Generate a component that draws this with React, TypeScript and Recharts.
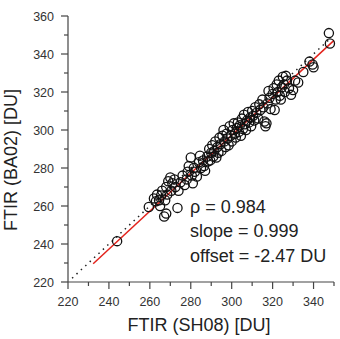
import React from "react";
import {
  ScatterChart,
  Scatter,
  XAxis,
  YAxis,
  ReferenceLine,
} from "recharts";

// total ozone columns, FTIR retrievals: SH08 (x) vs BA02 (y)
const sh08 = [
  244, 259.5, 262, 263, 263.5, 264.5, 265, 265.5, 266, 267, 268, 267.5, 268,
  268.5, 269, 270, 270.5, 271, 272, 272.5, 273.5, 274, 275, 276, 277, 278,
  278.5, 279, 280, 280.5, 281, 281.5, 282, 283, 284, 284.5, 285, 286, 286.5,
  287, 288, 288.5, 289, 289.5, 290, 290.5, 291, 291.5, 292, 292.5, 293, 293.5,
  294, 294.5, 295, 295.5, 296, 296.5, 297, 297.5, 298, 298.5, 299, 299.5, 300,
  300.5, 301, 301.5, 302, 302.5, 303, 303.5, 304, 304.5, 305, 305.5, 306,
  306.5, 307, 307.5, 308, 308.5, 309, 309.5, 310, 310.5, 311, 311.5, 312, 313,
  313.5, 314, 315, 315.5, 316, 316.5, 317, 317.5, 318, 318.5, 319, 320, 320.5,
  321, 321.5, 322, 322.5, 323, 323.5, 324, 324.5, 325, 325.5, 326, 326.5, 327,
  328, 329, 330, 331, 332.5, 335, 338, 339.5, 340, 347.5, 348,
];
const ba02 = [
  241.5, 259.5, 264, 262.5, 266, 263, 260, 265.5, 268, 254.5, 256, 263, 270,
  266, 273, 275, 268, 272, 274, 270, 259, 268, 272.5, 276, 271, 274, 278, 281,
  285.5, 276, 272, 280, 278, 275.5, 283, 286.5, 280, 284, 281, 278.5, 286,
  283.5, 290, 284, 288, 292, 286, 289, 294, 285.5, 291, 288, 296, 292.5, 289,
  297, 300, 294, 291, 298, 295.5, 292, 302, 297, 294, 300, 303.5, 298, 296,
  301, 304, 299, 302.5, 297, 306, 300.5, 308, 303, 300, 305, 309.5, 304, 306.5,
  302, 310, 307.5, 305, 312, 309, 306, 313.5, 310.5, 316, 312, 304.5, 302,
  303.5, 314, 320.5, 317, 311, 319, 322, 310.5, 316, 324, 320, 326, 318, 316,
  322.5, 328, 324, 320, 328.5, 326, 322, 318.5, 321, 326, 325, 330.5, 336,
  334.5, 333, 351, 345.5,
];

const xTicks = [220, 230, 240, 250, 260, 270, 280, 290, 300, 310, 320, 330, 340, 350];
const yTicks = [220, 230, 240, 250, 260, 270, 280, 290, 300, 310, 320, 330, 340, 350, 360];

// linear fit results
const rho = 0.984;
const slope = 0.999;
const offset = -2.47;
const fitFrom = 232.3;
const fitTo = 350;
const oneToOne = [222, 348];

const data = sh08.map((x, i) => ({ x, y: ba02[i] }));

const font = "'Liberation Sans', Arial, Helvetica, sans-serif";
const axisColor = "#444";

const XTick = ({ x, y, payload }: any) => {
  const major = (payload.value - 220) % 20 === 0;
  return (
    <g>
      <line x1={x} x2={x} y1={y} y2={y + (major ? 7 : 4)} stroke={axisColor} strokeWidth={1.2} />
      {major && (
        <text x={x} y={y + 23.5} textAnchor="middle" fontSize={12.5} fontFamily={font} fill="#333">
          {payload.value}
        </text>
      )}
    </g>
  );
};

const YTick = ({ x, y, payload }: any) => {
  const major = (payload.value - 220) % 20 === 0;
  return (
    <g>
      <line x1={x} x2={x - (major ? 7 : 4)} y1={y} y2={y} stroke={axisColor} strokeWidth={1.2} />
      {major && (
        <text x={x - 14} y={y + 4.5} textAnchor="end" fontSize={12.5} fontFamily={font} fill="#333">
          {payload.value}
        </text>
      )}
    </g>
  );
};

const Ring = (props: any) => (
  <circle cx={props.cx} cy={props.cy} r={4.6} fill="none" stroke="#111" strokeWidth={1.3} />
);

export default function App() {
  return (
    <div style={{ position: "absolute", left: 0, top: 0, background: "#fff" }}>
      <ScatterChart
        width={340}
        height={339}
        margin={{ top: 16, right: 6, bottom: 0, left: 0 }}
      >
        <XAxis
          type="number"
          dataKey="x"
          domain={[220, 350]}
          ticks={xTicks}
          interval={0}
          height={57}
          tickSize={0}
          tickMargin={0}
          tickLine={false}
          tick={<XTick />}
          axisLine={{ stroke: axisColor, strokeWidth: 1.2 }}
        />
        <YAxis
          type="number"
          dataKey="y"
          domain={[220, 360]}
          ticks={yTicks}
          interval={0}
          width={68}
          tickSize={0}
          tickMargin={0}
          tickLine={false}
          tick={<YTick />}
          axisLine={{ stroke: axisColor, strokeWidth: 1.2 }}
        />
        <Scatter data={data} shape={<Ring />} isAnimationActive={false} />
        <ReferenceLine
          segment={[
            { x: oneToOne[0], y: oneToOne[0] },
            { x: oneToOne[1], y: oneToOne[1] },
          ]}
          stroke="#222"
          strokeWidth={1.5}
          strokeDasharray="1.5 4.5"
        />
        <ReferenceLine
          segment={[
            { x: fitFrom, y: slope * fitFrom + offset },
            { x: fitTo, y: slope * fitTo + offset },
          ]}
          stroke="#e3231c"
          strokeWidth={1.5}
        />
        <text x={199} y={330.5} textAnchor="middle" fontSize={18} fontFamily={font} fill="#222">
          FTIR (SH08) [DU]
        </text>
        <text
          transform="translate(16.5,160) rotate(-90)"
          textAnchor="middle"
          fontSize={18}
          fontFamily={font}
          fill="#222"
        >
          FTIR (BA02) [DU]
        </text>
        <g fontSize={18} fontFamily={font} fill="#222">
          <text x={190} y={213}>{`ρ = ${rho.toFixed(3)}`}</text>
          <text x={190} y={237}>{`slope = ${slope.toFixed(3)}`}</text>
          <text x={190} y={261.5}>{`offset = ${offset.toFixed(2)} DU`}</text>
        </g>
      </ScatterChart>
    </div>
  );
}
